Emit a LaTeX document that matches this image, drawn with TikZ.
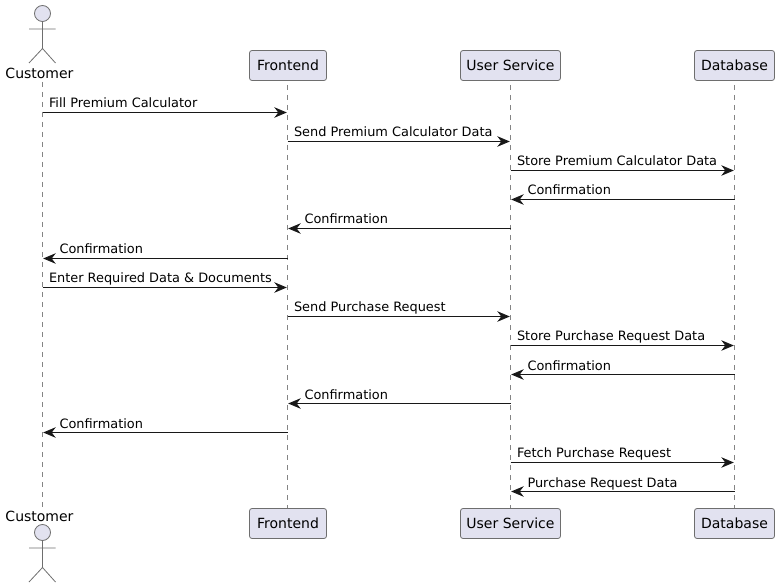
\documentclass[tikz,border=0pt]{standalone}
\usepackage{fontspec}
\setmainfont{DejaVu Sans}
\usetikzlibrary{arrows.meta}
\definecolor{lineblk}{HTML}{181818}
\definecolor{thinblk}{HTML}{6E6E6E}
\definecolor{boxfill}{HTML}{E2E2F0}
\tikzset{
  partbox/.style={draw=thinblk, line width=0.8pt, fill=boxfill, rounded corners=2.5pt,
    minimum height=30pt, inner sep=0pt, outer sep=0pt, text=black, font=\fontsize{14}{16}\selectfont},
  actorline/.style={draw=thinblk, line width=0.8pt},
  lifeline/.style={draw=thinblk!85, line width=0.8pt, dash pattern=on 5pt off 5pt},
  msgline/.style={draw=lineblk, line width=0.9pt, shorten >=0.7pt, -{Stealth[length=12.5pt,width=10.5pt,inset=4pt]}},
  msgtext/.style={inner sep=0pt, outer sep=0pt, anchor=base west, font=\fontsize{12.9}{15}\selectfont},
  actortext/.style={inner sep=0pt, outer sep=0pt, anchor=base, font=\fontsize{14}{16}\selectfont}
}
\begin{document}
\begin{tikzpicture}[x=1pt,y=-1pt]
  \useasboundingbox (0,0) rectangle (779,588);

  % lifelines first, the boxes sit on top
  \coordinate (custa) at (42.5,82);
  \coordinate (custb) at (42.5,507);
  \coordinate (fronta) at (287.5,65);
  \coordinate (frontb) at (287.5,523);
  \coordinate (usera) at (510.5,65);
  \coordinate (userb) at (510.5,523);
  \coordinate (dataa) at (734.5,65);
  \coordinate (datab) at (734.5,523);
  \draw[lifeline] (custa) -- (custb);
  \draw[lifeline] (fronta) -- (frontb);
  \draw[lifeline] (usera) -- (userb);
  \draw[lifeline] (dataa) -- (datab);

  % top row
  \node[actortext] (custtop) at (39.5,78.5) {Customer};
  \node[partbox, minimum width=77pt] (fronttop) at (288,65.5) {Frontend};
  \node[partbox, minimum width=100pt] (usertop) at (510.5,65.5) {User Service};
  \node[partbox, minimum width=80pt] (datatop) at (734.5,65.5) {Database};

  % bottom row
  \node[actortext] (custbot) at (39.5,521) {Customer};
  \node[partbox, minimum width=77pt] (frontbot) at (288,523.5) {Frontend};
  \node[partbox, minimum width=100pt] (userbot) at (510.5,523.5) {User Service};
  \node[partbox, minimum width=80pt] (databot) at (734.5,523.5) {Database};

  % the two actors
  \foreach \y in {13.5,532.5} {
    \draw[actorline, fill=boxfill] (42.5,\y) circle[radius=8pt];
    \draw[actorline] (42.5,\y+8) -- (42.5,\y+35) -- (29,\y+49.5)
      (42.5,\y+35) -- (55.5,\y+49.5)
      (29,\y+15.5) -- (55.5,\y+15.5);
  }

  % messages, left to right
  \foreach \x/\xx/\y/\txt [count=\n] in {
    42.5/287.5/112.5/Fill Premium Calculator,
    287.5/510.5/141.5/Send Premium Calculator Data,
    510.5/734.5/170.5/Store Premium Calculator Data,
    42.5/287.5/287.5/Enter Required Data \& Documents,
    287.5/510.5/316.5/Send Purchase Request,
    510.5/734.5/345.5/Store Purchase Request Data,
    510.5/734.5/462.5/Fetch Purchase Request} {
    \coordinate (rfrom\n) at (\x,\y);
    \coordinate (rto\n) at (\xx,\y);
    \draw[msgline] (rfrom\n) -- (rto\n);
    \node[msgtext] (rlab\n) at (\x+6.5,\y-5) {\txt};
  }

  % messages, right to left
  \foreach \x/\xx/\y/\txt [count=\n] in {
    734.5/510.5/199.5/Confirmation,
    510.5/287.5/228.5/Confirmation,
    287.5/42.5/258.5/Confirmation,
    734.5/510.5/374.5/Confirmation,
    510.5/287.5/403.5/Confirmation,
    287.5/42.5/432.5/Confirmation,
    734.5/510.5/491.5/Purchase Request Data} {
    \coordinate (lfrom\n) at (\x,\y);
    \coordinate (lto\n) at (\xx,\y);
    \draw[msgline] (lfrom\n) -- (lto\n);
    \node[msgtext] (llab\n) at (\xx+17,\y-4.5) {\txt};
  }
\end{tikzpicture}
\end{document}
